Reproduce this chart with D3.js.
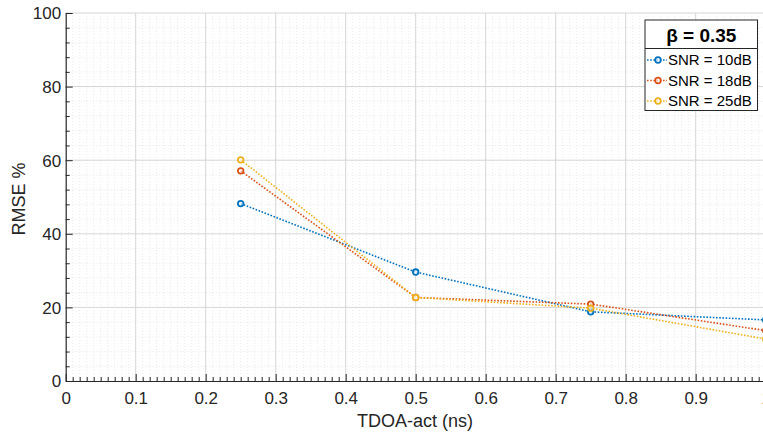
<!DOCTYPE html>
<html><head><meta charset="utf-8">
<script src="https://cdn.jsdelivr.net/npm/d3@7"></script>
<style>body{margin:0;background:#fff;}svg{display:block;font-family:"Liberation Sans",Arial,sans-serif;}</style>
</head><body>
<svg id="c" width="763" height="435"></svg>
<script>
const xValues = [0.25, 0.5, 0.75, 1.0];
const snr10 = [48.2, 29.6, 18.8, 16.6];
const snr18 = [57.1, 22.7, 20.9, 13.7];
const snr25 = [60.1, 22.7, 19.8, 11.4];
const seriesNames = ["SNR = 10dB", "SNR = 18dB", "SNR = 25dB"];
const seriesColors = ["#0072BD", "#D95319", "#EDB120"];
const xTicks = [0, 0.1, 0.2, 0.3, 0.4, 0.5, 0.6, 0.7, 0.8, 0.9, 1];
const yTicks = [0, 20, 40, 60, 80, 100];
const legendTitle = "β = 0.35";

const series = [snr10, snr18, snr25];
const svg = d3.select("#c");
const L = 65.7, R = 765.7, T = 13, B = 381;
const x = d3.scaleLinear().domain([0, 1]).range([L, R]);
const y = d3.scaleLinear().domain([0, 100]).range([B, T]);

const g = svg.append("g");
// minor grid
const xMinor = d3.range(0, 101).map(i => i / 100).filter(v => Math.round(v * 100) % 10 !== 0);
const yMinor = d3.range(0, 101, 4).filter(v => v % 20 !== 0);
g.selectAll(".mx").data(xMinor).join("line")
  .attr("x1", d => x(d)).attr("x2", d => x(d)).attr("y1", T).attr("y2", B)
  .attr("stroke", "#e3e3e3").attr("stroke-width", 0.8).attr("stroke-dasharray", "1,2");
g.selectAll(".my").data(yMinor).join("line")
  .attr("x1", L).attr("x2", R).attr("y1", d => y(d)).attr("y2", d => y(d))
  .attr("stroke", "#e3e3e3").attr("stroke-width", 0.8).attr("stroke-dasharray", "1,2");
// major grid
g.selectAll(".gx").data(xTicks.slice(1)).join("line")
  .attr("x1", d => x(d)).attr("x2", d => x(d)).attr("y1", T).attr("y2", B)
  .attr("stroke", "#d6d6d6").attr("stroke-width", 1);
g.selectAll(".gy").data(yTicks.slice(1)).join("line")
  .attr("x1", L).attr("x2", R).attr("y1", d => y(d)).attr("y2", d => y(d))
  .attr("stroke", "#d6d6d6").attr("stroke-width", 1);

// axes
const xAxis = d3.axisBottom(x).tickValues(xTicks).tickFormat(d3.format("")).tickSizeInner(-7).tickSizeOuter(0).tickPadding(11);
const gx = svg.append("g").attr("transform", `translate(0,${B})`).call(xAxis);
const xMinorAxis = d3.axisBottom(x).tickValues(xMinor).tickFormat("").tickSizeInner(-4).tickSizeOuter(0);
svg.append("g").attr("transform", `translate(0,${B})`).call(xMinorAxis).select(".domain").remove();
const yAxis = d3.axisLeft(y).tickValues(yTicks).tickSizeInner(-7).tickSizeOuter(0).tickPadding(4.5);
const gy = svg.append("g").attr("transform", `translate(${L},0)`).call(yAxis);
const yMinorAxis = d3.axisLeft(y).tickValues(yMinor).tickFormat("").tickSizeInner(-4).tickSizeOuter(0);
svg.append("g").attr("transform", `translate(${L},0)`).call(yMinorAxis).select(".domain").remove();
svg.selectAll(".domain").attr("stroke", "#262626").attr("stroke-width", 1.2);
svg.selectAll(".tick line").attr("stroke", "#262626");
svg.selectAll(".tick text").attr("font-size", 17).attr("fill", "#262626").attr("font-family", "Liberation Sans, Arial, sans-serif");
gy.selectAll(".tick text").attr("dy", "0.35em");

// labels
svg.append("text").attr("x", 415).attr("y", 427).attr("text-anchor", "middle")
  .attr("font-size", 18).attr("fill", "#262626").text("TDOA-act (ns)");
svg.append("text").attr("transform", "translate(25,199) rotate(-90)").attr("text-anchor", "middle")
  .attr("font-size", 18).attr("fill", "#262626").text("RMSE %");

// series
const line = d3.line().x((d, i) => x(xValues[i])).y(d => y(d));
series.forEach((s, k) => {
  svg.append("path").datum(s).attr("d", line).attr("fill", "none")
    .attr("stroke", seriesColors[k]).attr("stroke-width", 1.6).attr("stroke-dasharray", "1.6,1.6");
  svg.selectAll(".m" + k).data(s).join("circle")
    .attr("cx", (d, i) => x(xValues[i])).attr("cy", d => y(d)).attr("r", 2.8)
    .attr("fill", "#fff").attr("fill-opacity", 0.6).attr("stroke", seriesColors[k]).attr("stroke-width", 1.8);
});

// legend
const lg = svg.append("g");
const lx = 645, ly = 20, lw = 112.5, lh = 90.5;
lg.append("rect").attr("x", lx).attr("y", ly).attr("width", lw).attr("height", lh)
  .attr("fill", "#fff").attr("stroke", "#262626").attr("stroke-width", 1);
lg.append("line").attr("x1", lx).attr("x2", lx + lw).attr("y1", 48.5).attr("y2", 48.5)
  .attr("stroke", "#262626").attr("stroke-width", 1);
lg.append("text").attr("x", lx + lw / 2).attr("y", 42).attr("text-anchor", "middle")
  .attr("font-size", 19).attr("font-weight", "bold").attr("fill", "#000").text(legendTitle);
seriesNames.forEach((n, k) => {
  const yy = 60 + k * 20.5;
  lg.append("line").attr("x1", lx + 2).attr("x2", lx + 22).attr("y1", yy).attr("y2", yy)
    .attr("stroke", seriesColors[k]).attr("stroke-width", 1.6).attr("stroke-dasharray", "1.6,1.6");
  lg.append("circle").attr("cx", lx + 13).attr("cy", yy).attr("r", 2.8)
    .attr("fill", "#fff").attr("fill-opacity", 0.6).attr("stroke", seriesColors[k]).attr("stroke-width", 1.8);
  lg.append("text").attr("x", lx + 23).attr("y", yy).attr("dy", "0.35em")
    .attr("font-size", 15).attr("fill", "#000").text(n);
});
</script>
</body></html>
